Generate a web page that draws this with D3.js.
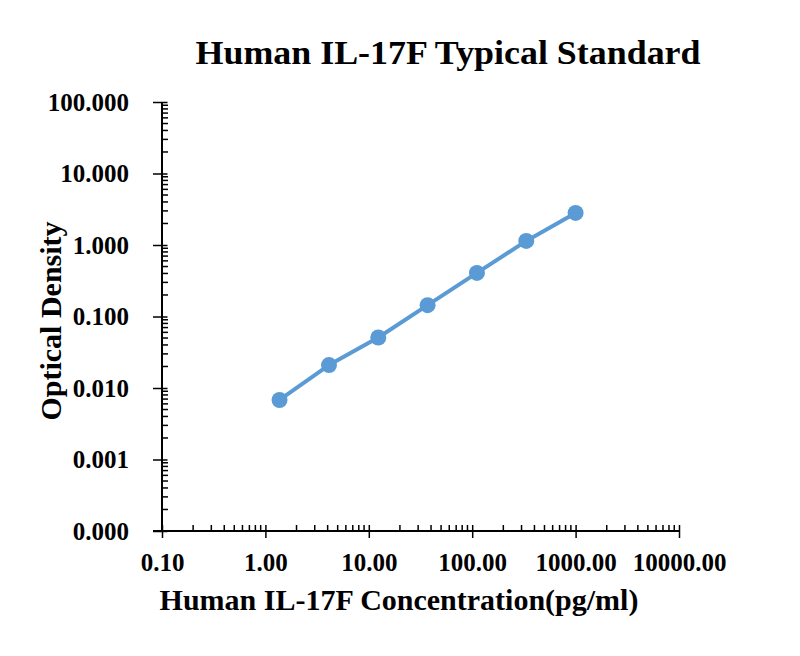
<!DOCTYPE html>
<html>
<head>
<meta charset="utf-8">
<script src="https://cdn.jsdelivr.net/npm/d3@7"></script>
<style>
  html, body { margin: 0; padding: 0; background: #fff; }
  svg { display: block; }
  text { font-family: "Liberation Serif", "Times New Roman", serif; font-weight: bold; fill: #000; }
</style>
</head>
<body>
<div id="chart"></div>
<script>
// ---- data ----
const concentrations = [1.37, 4.12, 12.35, 37.04, 111.11, 333.33, 1000];
const opticalDensity = [0.0068, 0.0209, 0.0509, 0.144, 0.407, 1.14, 2.81];
const xTickValues = [0.1, 1, 10, 100, 1000, 10000];
const yTickValues = [0.0001, 0.001, 0.01, 0.1, 1, 10, 100];
const titleText = "Human IL-17F Typical Standard";
const xTitleText = "Human IL-17F Concentration(pg/ml)";
const yTitleText = "Optical Density";

const W = 800, H = 656;
const margin = { top: 102, right: 121, bottom: 125, left: 162 };
const innerW = W - margin.left - margin.right;
const innerH = H - margin.top - margin.bottom;
const blue = "#5B9BD5";

const svg = d3.select("#chart").append("svg").attr("width", W).attr("height", H);
const g = svg.append("g").attr("transform", `translate(${margin.left},${margin.top})`);

const x = d3.scaleLog().domain([0.1, 10000]).range([0, innerW]);
const y = d3.scaleLog().domain([0.0001, 100]).range([innerH, 0]);

// minor ticks
function minorTicks(domain) {
  const out = [];
  const lo = Math.round(Math.log10(domain[0])), hi = Math.round(Math.log10(domain[1]));
  for (let e = lo; e < hi; e++) for (let k = 2; k <= 9; k++) out.push(k * Math.pow(10, e));
  return out;
}

// X minor ticks (upward only)
g.append("g").selectAll("line").data(minorTicks(x.domain())).join("line")
  .attr("x1", d => x(d)).attr("x2", d => x(d))
  .attr("y1", innerH).attr("y2", innerH - 6)
  .attr("stroke", "#000").attr("stroke-width", 1.5);

// Y minor ticks (rightward only)
g.append("g").selectAll("line").data(minorTicks(y.domain())).join("line")
  .attr("x1", 0).attr("x2", 6)
  .attr("y1", d => y(d)).attr("y2", d => y(d))
  .attr("stroke", "#000").attr("stroke-width", 1.5);

// X axis
const xAxis = g.append("g").attr("transform", `translate(0,${innerH})`)
  .call(d3.axisBottom(x).tickValues(xTickValues).tickFormat(d3.format(".2f")).tickSize(7).tickPadding(15).tickSizeOuter(0));
xAxis.select(".domain").attr("stroke-width", 2).attr("d", `M-9,0H${innerW}`);
xAxis.selectAll(".tick line").attr("y1", -6).attr("stroke-width", 1.5);
xAxis.selectAll(".tick text").attr("font-size", 25).attr("font-family", "Liberation Serif").attr("font-weight", "bold").attr("fill", "#000");

// Y axis
const yAxis = g.append("g")
  .call(d3.axisLeft(y).tickValues(yTickValues).tickFormat(d3.format(".3f")).tickSize(9).tickPadding(24).tickSizeOuter(0));
yAxis.select(".domain").attr("stroke-width", 2).attr("d", `M0,${innerH}V0`);
yAxis.selectAll(".tick line").attr("x1", 5.5).attr("stroke-width", 1.5);
yAxis.selectAll(".tick text").attr("font-size", 25).attr("font-family", "Liberation Serif").attr("font-weight", "bold").attr("fill", "#000");

// line + points
const pts = concentrations.map((c, i) => [c, opticalDensity[i]]);
g.append("path").datum(pts)
  .attr("fill", "none").attr("stroke", blue).attr("stroke-width", 4).attr("stroke-linejoin", "round")
  .attr("d", d3.line().x(d => x(d[0])).y(d => y(d[1])));
g.append("g").selectAll("circle").data(pts).join("circle")
  .attr("cx", d => x(d[0])).attr("cy", d => y(d[1])).attr("r", 8).attr("fill", blue);

// titles
svg.append("text").attr("x", 448).attr("y", 64).attr("text-anchor", "middle")
  .attr("font-size", 33).attr("textLength", 505).attr("lengthAdjust", "spacingAndGlyphs").text(titleText);
svg.append("text").attr("x", 399).attr("y", 610).attr("text-anchor", "middle")
  .attr("font-size", 30).text(xTitleText);
svg.append("text").attr("transform", "translate(61,321) rotate(-90)").attr("text-anchor", "middle")
  .attr("font-size", 30).text(yTitleText);
</script>
</body>
</html>
